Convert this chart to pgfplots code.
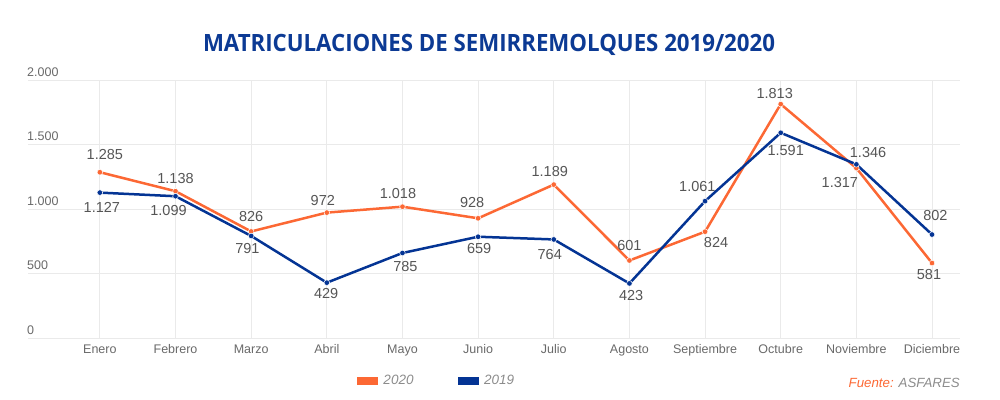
\documentclass[border=0pt]{standalone}
\usepackage{fontspec}
\setmainfont{Liberation Sans}
\newfontfamily\titlefont{Open Sans}
\usepackage{graphicx}
\usepackage{pgfplots}
\pgfplotsset{compat=1.18}
\usepackage{pgfplotstable}
\definecolor{c2020}{RGB}{252,104,52}
\definecolor{c2019}{RGB}{4,52,148}
\definecolor{ctitle}{RGB}{12,58,148}
\definecolor{clab}{RGB}{85,85,85}
\definecolor{ctick}{RGB}{105,105,105}
\definecolor{cleg}{RGB}{140,140,140}
\definecolor{cgrid}{RGB}{234,234,234}

\pgfplotstableread{
x y lab dx dy
0 1285 1.285 5 18
1 1138 1.138 0 13
2 826 826 0 15
3 972 972 -4 12
4 1018 1.018 -4.5 13
5 928 928 -6 16
6 1189 1.189 -4 13
7 601 601 0 15
8 824 824 11 -11.3
9 1813 1.813 -6 11
10 1317 1.317 -16.5 -14
11 581 581 -3 -11
}\tabA

\pgfplotstableread{
x y lab dx dy
0 1127 1.127 2 -14.4
1 1099 1.099 -7 -14.3
2 791 791 -3.7 -12.7
3 429 429 -0.6 -10.7
4 659 785 3 -13.7
5 785 659 1 -11.7
6 764 764 -4 -14.7
7 423 423 1.7 -12
8 1061 1.061 -7.7 14.3
9 1591 1.591 5 -18
10 1346 1.346 11.7 12.3
11 802 802 3.4 19.3
}\tabB

\begin{document}
\begin{tikzpicture}[x=1pt,y=1pt]
\useasboundingbox (0,0) rectangle (1000,399);
\node[anchor=base, text=ctitle, inner sep=0pt] at (489,347)
  {\resizebox{572pt}{\height}{\titlefont\bfseries\fontsize{23.8}{26}\selectfont MATRICULACIONES DE SEMIRREMOLQUES 2019/2020}};
\begin{axis}[
  at={(28pt,61pt)}, anchor=south west,
  scale only axis, width=932pt, height=258pt,
  xmin=-0.95, xmax=11.37, ymin=0, ymax=2000,
  clip=false,
  axis line style={draw=none},
  major tick length=0pt,
  xtick={0,1,2,3,4,5,6,7,8,9,10,11},
  xticklabels={Enero,Febrero,Marzo,Abril,Mayo,Junio,Julio,Agosto,Septiembre,Octubre,Noviembre,Diciembre},
  ytick={0,500,1000,1500,2000},
  yticklabels={0,500,1.000,1.500,2.000},
  xmajorgrids, ymajorgrids,
  major grid style={color=cgrid, line width=0.8pt},
  xticklabel style={anchor=north, inner sep=0pt, text height=9pt, text depth=0pt, yshift=-6.5pt, font=\fontsize{12.5}{14}\selectfont, text=ctick},
  yticklabel style={anchor=south west, inner sep=0pt, xshift=-1pt, yshift=3.5pt, font=\fontsize{12.5}{14}\selectfont, text=ctick},
  legend style={at={(0.353,-0.1667)}, anchor=west, draw=none, fill=none, inner sep=0pt, outer sep=0pt,
    font=\itshape\fontsize{13.5}{16}\selectfont, text=cleg, nodes={inner sep=0pt},
    /tikz/every odd column/.append style={column sep=5pt},
    /tikz/every even column/.append style={column sep=44pt}},
  legend columns=2,
  legend image code/.code={\fill[#1] (0pt,-3pt) rectangle (19pt,3pt);},
  nodes near coords,
  point meta=explicit symbolic,
  visualization depends on={\thisrow{dx} \as \dx},
  visualization depends on={\thisrow{dy} \as \dy},
  nodes near coords style={anchor=center, inner sep=0pt, xshift=\dx pt, yshift=\dy pt, text=clab, font=\fontsize{14.5}{16}\selectfont},
]
\addplot[color=c2020, line width=2.5pt, mark=*, mark size=2.8pt, mark options={fill=c2020, draw=white, line width=0.5pt}]
  table[x=x, y=y, meta=lab] {\tabA};
\addlegendentry{2020}
\addplot[color=c2019, line width=2.5pt, mark=*, mark size=2.8pt, mark options={fill=c2019, draw=white, line width=0.5pt}]
  table[x=x, y=y, meta=lab] {\tabB};
\addlegendentry{2019}
\end{axis}
\node[anchor=base east, inner sep=0pt, font=\itshape\fontsize{13.3}{16}\selectfont] at (960,12)
  {\textcolor{c2020}{Fuente:} \textcolor{cleg}{ASFARES}};
\end{tikzpicture}
\end{document}
